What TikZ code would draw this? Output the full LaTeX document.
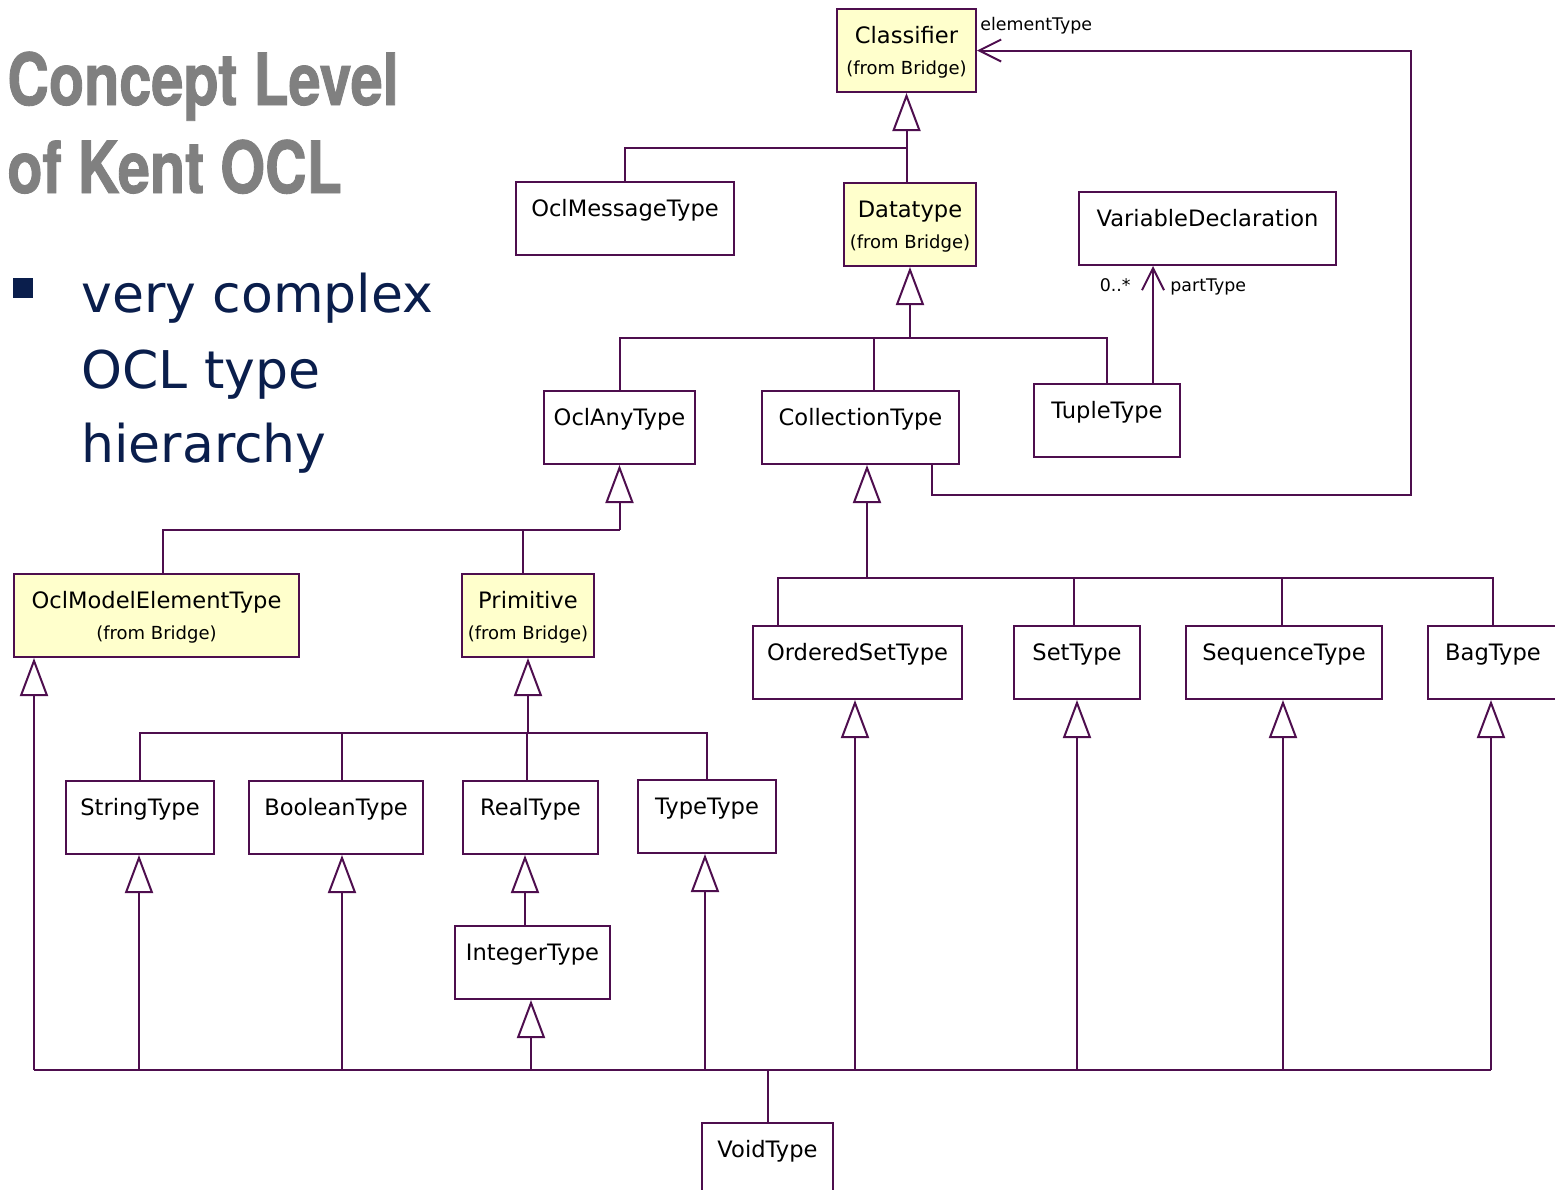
\documentclass[tikz,border=0pt]{standalone}
\usepackage{fontspec}
\setmainfont{DejaVu Sans}
\newfontfamily\titlefont[FakeStretch=0.8, BoldFeatures={FakeBold=1.2}]{TeX Gyre Heros}
\usetikzlibrary{arrows.meta}
\definecolor{umlpurple}{RGB}{78,14,78}
\definecolor{bridgeyellow}{RGB}{255,255,204}
\definecolor{titlegray}{RGB}{128,128,128}
\definecolor{navy}{RGB}{10,30,76}
\newcommand{\boxfont}{\fontsize{11.3}{14}\selectfont}
\newcommand{\frombr}[1]{\begin{tabular}[t]{@{}c@{}}#1\\[1.5pt]{\fontsize{9}{11}\selectfont(from Bridge)}\end{tabular}}
\tikzset{
  umlbox/.style={draw=umlpurple, line width=1pt, fill=white, anchor=north west,
    inner xsep=0pt, inner ysep=0pt, text height=17pt, text depth=19.5pt, font=\boxfont},
  bridgebox/.style={umlbox, fill=bridgeyellow, text depth=24.5pt},
  genline/.style={draw=umlpurple, line width=1pt},
  thinline/.style={draw=umlpurple, line width=0.6pt},
  gen/.style={genline, -{Triangle[open,length=19pt,width=14pt]}},
  assoc/.style={genline, -{Straight Barb[length=11pt,width=11pt]}},
  rolelabel/.style={inner sep=0pt, font=\fontsize{8.7}{10}\selectfont},
  titletext/.style={inner sep=0pt, text=titlegray, font=\titlefont\bfseries\fontsize{36}{44}\selectfont},
  bullettext/.style={inner sep=0pt, text=navy, font=\fontsize{26}{37}\selectfont}
}
\begin{document}
\begin{tikzpicture}[x=0.5pt,y=-0.5pt]
        \useasboundingbox (0,0) rectangle (1555,1190);
        % title and bullet
        \node[titletext, anchor=base west] (title1) at (7,105) {Concept Level};
        \node[titletext, anchor=base west] (title2) at (7,193) {of Kent OCL};
        \node[fill=navy, inner sep=0pt, minimum size=10pt] (bullet) at (22.5,288) {};
        \foreach \t/\y [count=\i] in {very complex/312, OCL type/388, hierarchy/462}
                \node[bullettext, anchor=base west] (blt\i) at (81,\y) {\t};
        % classes
        \node[bridgebox, minimum width=69.5pt] (classifier) at (836,8) {\frombr{Classifier}};
        \node[umlbox, minimum width=109pt] (msgtype) at (515,181) {OclMessageType};
        \node[bridgebox, minimum width=66pt] (datatype) at (843,182) {\frombr{Datatype}};
        \node[umlbox, minimum width=128.5pt] (vardecl) at (1078,191) {VariableDeclaration};
        \node[umlbox, minimum width=75.5pt] (anytype) at (543,390) {OclAnyType};
        \node[umlbox, minimum width=98.5pt] (colltype) at (761,390) {CollectionType};
        \node[umlbox, minimum width=73pt] (tupletype) at (1033,383) {TupleType};
        \node[bridgebox, minimum width=142.5pt] (modelelem) at (13,573) {\frombr{OclModelElementType}};
        \node[bridgebox, minimum width=66pt] (primitive) at (461,573) {\frombr{Primitive}};
        \node[umlbox, minimum width=104.5pt] (orderedset) at (752,625) {OrderedSetType};
        \node[umlbox, minimum width=63pt] (settype) at (1013,625) {SetType};
        \node[umlbox, minimum width=98pt] (seqtype) at (1185,625) {SequenceType};
        \node[umlbox, minimum width=65pt] (bagtype) at (1427,625) {BagType};
        \node[umlbox, minimum width=74pt] (stringtype) at (65,780) {StringType};
        \node[umlbox, minimum width=87pt] (booltype) at (248,780) {BooleanType};
        \node[umlbox, minimum width=67.5pt] (realtype) at (462,780) {RealType};
        \node[umlbox, minimum width=69pt] (typetype) at (637,779) {TypeType};
        \node[umlbox, minimum width=77.5pt] (inttype) at (454,925) {IntegerType};
        \node[umlbox, minimum width=65.5pt] (voidtype) at (701,1122) {VoidType};
        % Classifier
        \draw[genline] (msgtype.north) |- (classifier.south |- 0,148);
        \draw[gen] (classifier.south |- datatype.north) -- (classifier.south);
        % Datatype
        \draw[gen] (datatype.south |- 0,338) -- (datatype.south);
        \draw[genline] (anytype.north) |- (tupletype.north |- 0,338) -- (tupletype.north);
        \draw[genline] (874,338) -- (874,0 |- colltype.north);
        % partType
        \draw[assoc] (1153,0 |- tupletype.north) -- (1153,0 |- vardecl.south);
        \node[rolelabel, anchor=base east] (mult) at (1131,291) {0..*};
        \node[rolelabel, anchor=base west] (parttype) at (1170,291) {partType};
        % elementType
        \draw[assoc] (932,0 |- colltype.south) |- (1411,495) |- (classifier.east);
        \node[rolelabel, anchor=base west] (elemtype) at (980,30) {elementType};
        % OclAnyType
        \draw[gen] (anytype.south |- 0,530) -- (anytype.south);
        \draw[genline] (163,0 |- modelelem.north) |- (anytype.south |- 0,530);
        \draw[genline] (523,530) -- (523,0 |- primitive.north);
        % CollectionType
        \draw[gen] (867,578) -- (867,0 |- colltype.south);
        \draw[genline] (778,0 |- orderedset.north) |- (bagtype.north |- 0,578) -- (bagtype.north);
        \foreach \x/\n in {1074/settype,1282/seqtype}
                \draw[genline] (\x,578) -- (\x,0 |- \n.north);
        % Primitive
        \draw[gen] (primitive.south |- 0,733) -- (primitive.south);
        \draw[genline] (stringtype.north) |- (typetype.north |- 0,733) -- (typetype.north);
        \foreach \x/\n in {342/booltype,527/realtype}
                \draw[thinline] (\x,733) -- (\x,0 |- \n.north);
        % RealType
        \draw[gen] (525,0 |- inttype.north) -- (525,0 |- realtype.south);
        % VoidType
        \draw[thinline] (34,1070) -- (1491,1070);
        \draw[genline] (voidtype.north) -- (voidtype.north |- 0,1070);
        \foreach \x/\n in {34/modelelem,139/stringtype,342/booltype,531/inttype,705/typetype,
                855/orderedset,1077/settype,1283/seqtype,1491/bagtype}
                \draw[gen] (\x,1070) -- (\x,0 |- \n.south);
\end{tikzpicture}
\end{document}
